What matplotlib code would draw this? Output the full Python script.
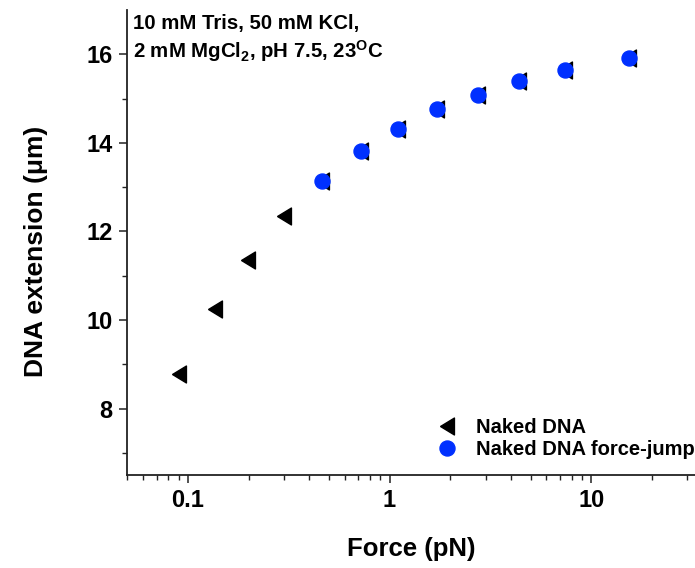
import matplotlib
matplotlib.use("Agg")
from matplotlib import pyplot as plt
from matplotlib import ticker
import numpy as np

plt.rcParams['font.family'] = ['Liberation Sans', 'DejaVu Sans']
plt.rcParams['font.weight'] = 'bold'
plt.rcParams['mathtext.fontset'] = 'custom'
plt.rcParams['mathtext.rm'] = 'Liberation Sans:bold'
plt.rcParams['mathtext.bf'] = 'Liberation Sans:bold'

# Naked DNA (black triangles)
naked_force = [0.090, 0.136, 0.199, 0.300, 0.463, 0.722, 1.10, 1.72, 2.75, 4.39, 7.42, 15.4]
naked_ext = [8.79, 10.25, 11.36, 12.35, 13.14, 13.81, 14.31, 14.76, 15.09, 15.39, 15.64, 15.91]

# Naked DNA force-jump (blue circles)
jump_force = [0.463, 0.722, 1.10, 1.72, 2.75, 4.39, 7.42, 15.4]
jump_ext = [13.14, 13.81, 14.31, 14.76, 15.09, 15.39, 15.64, 15.91]

# left-pointing triangle, a bit narrower than tall
tri = [(-0.82, 0.0), (0.82, 1.0), (0.82, -1.0), (-0.82, 0.0)]

fig = plt.figure(figsize=(6.95, 5.68), dpi=100)
ax = fig.add_axes([0.1822, 0.1637, 0.8178, 0.8187])

ax.plot(naked_force, naked_ext, linestyle='none', marker=tri, markersize=12.2,
        color='black', label='Naked DNA')
ax.plot(jump_force, jump_ext, linestyle='none', marker='o', markersize=10.8,
        color='#0030ff', label='Naked DNA force-jump')

ax.set_xscale('log')
ax.set_xlim(0.0497, 32.7)
ax.set_ylim(6.5, 17.0)

ax.xaxis.set_major_locator(ticker.FixedLocator([0.1, 1, 10]))
ax.xaxis.set_major_formatter(ticker.FixedFormatter(['0.1', '1', '10']))
ax.xaxis.set_minor_locator(ticker.LogLocator(base=10, subs=np.arange(2, 10)))
ax.xaxis.set_minor_formatter(ticker.NullFormatter())
ax.yaxis.set_major_locator(ticker.FixedLocator([8, 10, 12, 14, 16]))
ax.yaxis.set_minor_locator(ticker.FixedLocator([7, 9, 11, 13, 15]))

for s in ['top', 'right']:
    ax.spines[s].set_visible(False)
for s in ['left', 'bottom']:
    ax.spines[s].set_linewidth(1.3)
    ax.spines[s].set_color('#222222')

ax.tick_params(which='major', direction='out', length=6, width=1.1,
               labelsize=17, color='#222222', pad=4)
ax.tick_params(which='minor', direction='out', length=3.8, width=1.0,
               color='#222222')

ax.set_xlabel('Force (pN)', fontsize=18.5, fontweight='bold', va='top')
ax.xaxis.set_label_coords(0.5, -0.133)
ax.set_ylabel('DNA extension (\u03bcm)', fontsize=19, fontweight='bold')
ax.yaxis.set_label_coords(-0.138, 0.48)

fig.text(133 / 695, 1 - 29 / 568, '10 mM Tris, 50 mM KCl,',
         fontsize=14.7, fontweight='bold', va='baseline', ha='left')
fig.text(133 / 695, 1 - 58 / 568, r'2 mM MgCl$_{2}$, pH 7.5, 23$^{\mathrm{O}}$C',
         fontsize=14.7, fontweight='bold', va='baseline', ha='left')

ax.legend(loc='lower right', frameon=False, fontsize=14.5, handletextpad=0.45,
          handlelength=2.0, borderaxespad=0.0, borderpad=0.0, labelspacing=0.15,
          bbox_to_anchor=(1.0, 0.035))

fig.savefig('out.png', dpi=100)
